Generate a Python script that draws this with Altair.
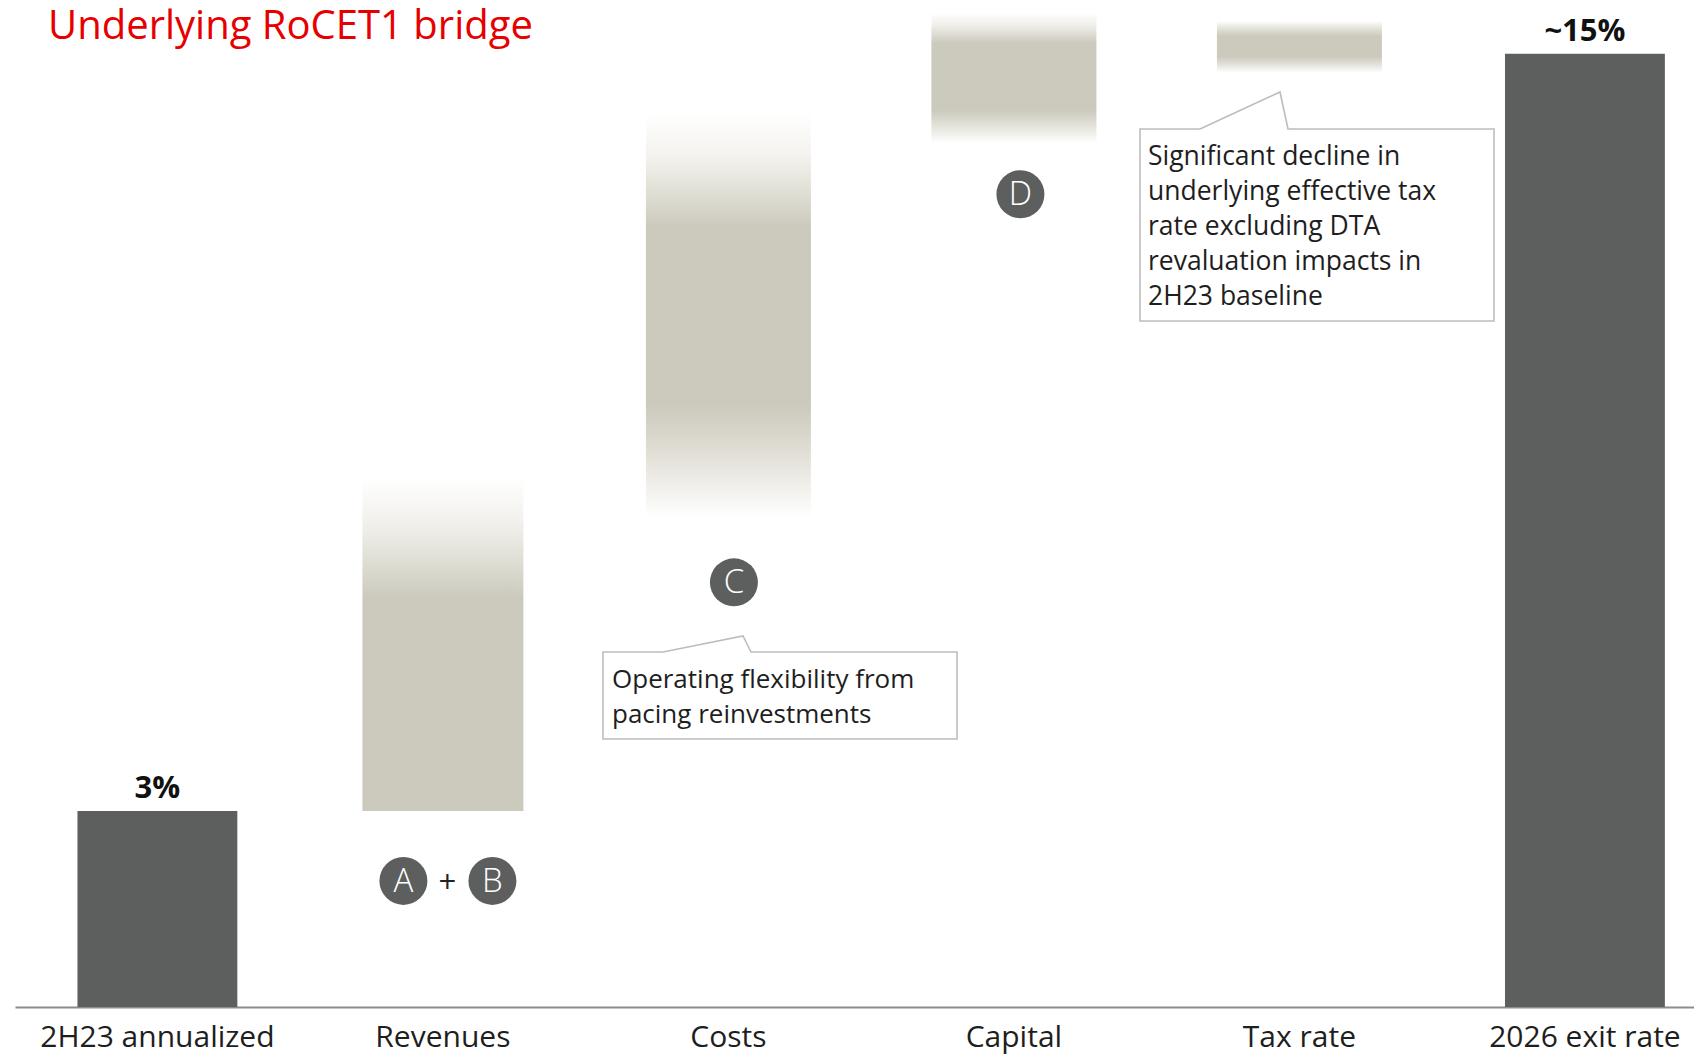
import altair as alt
import pandas as pd

# ---------------- data ----------------
categories = ["2H23 annualized", "Revenues", "Costs", "Capital", "Tax rate", "2026 exit rate"]
bar_low = [0.0, 3.0, 7.49, 13.22, 14.30, 0.0]
bar_high = [3.0, 8.10, 13.68, 15.21, 15.09, 14.59]
bar_kind = ["total", "step", "step", "step", "step", "total"]
value_labels = ["3%", "", "", "", "", "~15%"]

marker_cats = ["Revenues", "Revenues", "Costs", "Capital"]
marker_letters = ["A", "B", "C", "D"]
marker_levels = [1.93, 1.93, 6.50, 12.44]

title_text = "Underlying RoCET1 bridge"
callout1_lines = ["Operating flexibility from", "pacing reinvestments"]
callout2_lines = ["Significant decline in", "underlying effective tax", "rate excluding DTA",
                  "revaluation impacts in", "2H23 baseline"]

# ---------------- layout / style ----------------
W, H = 1679, 999
PAD_L, PAD_T, PAD_B = 7, 0, 47
OX, OY = 8 + PAD_L, 8 + PAD_T     # page offset of plot origin
FONT = "Open Sans"
DARK = "#5d5f5e"
SOLID = "#cccabd"
RED = "#e60000"
YMAX = 15.29
MARKER_DX = [-39.5, 49.5, 5.5, 6.5]
PLUS_DX = 4.5
STEP_WIDTH = {"Revenues": 161, "Costs": 165, "Capital": 165, "Tax rate": 165}

# callout outlines (page coordinates of annotation boxes)
callout_paths = {
    "c1": [(663, 652), (743, 636), (751, 652), (957, 652), (957, 739), (603, 739), (603, 652), (663, 652)],
    "c2": [(1200, 129), (1280, 92), (1288, 129), (1494, 129), (1494, 321), (1140, 321), (1140, 129), (1200, 129)],
}


def grad(stops):
    return {"gradient": "linear", "x1": 0, "y1": 0, "x2": 0, "y2": 1,
            "stops": [{"offset": o, "color": c} for o, c in stops]}


GRADS = {
    "Revenues": grad([(0, "#ffffff"), (0.12, "#f3f2ee"), (0.24, "#e1e0d7"), (0.36, SOLID), (1, SOLID)]),
    "Costs": grad([(0, "#ffffff"), (0.1, "#f4f3ef"), (0.2, "#dfded4"), (0.28, SOLID), (0.72, SOLID),
                   (0.82, "#dddbd1"), (0.92, "#f0efea"), (1, "#ffffff")]),
    "Capital": grad([(0, "#ffffff"), (0.1, "#eeede7"), (0.23, SOLID), (0.745, SOLID),
                     (0.87, "#e4e3db"), (1, "#ffffff")]),
    "Tax rate": grad([(0, "#ffffff"), (0.12, "#e8e7df"), (0.29, SOLID), (0.69, SOLID),
                      (0.85, "#e4e3db"), (1, "#ffffff")]),
}

bars = pd.DataFrame({"category": categories, "low": bar_low, "high": bar_high,
                     "kind": bar_kind, "label": value_labels})
markers = pd.DataFrame({"category": marker_cats, "letter": marker_letters, "level": marker_levels})

x_enc = alt.X("category:N", sort=categories,
              scale=alt.Scale(paddingInner=0.44, paddingOuter=0.1604, align=0.682),
              axis=alt.Axis(title=None, labelAngle=0, ticks=False, tickSize=0, grid=False,
                            domainColor="#8c8c8c", domainWidth=2, labelFontSize=30,
                            labelFont=FONT, labelColor="#1e1e1e", labelPadding=39,
                            labelBaseline="alphabetic", labelLimit=0))
y_scale = alt.Scale(domain=[0, YMAX], nice=False, zero=True)

base = alt.Chart(bars)

totals = base.transform_filter(alt.datum.kind == "total").mark_bar(color=DARK).encode(
    x=x_enc, y=alt.Y("high:Q", scale=y_scale, axis=None), y2="low:Q")

step_layers = []
for cat, g in GRADS.items():
    step_layers.append(
        base.transform_filter(alt.datum.category == cat).mark_bar(
            color=g, strokeWidth=0, width=STEP_WIDTH[cat]).encode(
            x=x_enc, y=alt.Y("high:Q", scale=y_scale, axis=None), y2="low:Q"))

labels = base.transform_filter(alt.datum.label != "").mark_text(
    font=FONT, fontSize=31, fontWeight="bold", color="#111111", baseline="alphabetic", dy=-13
).encode(x=x_enc, y=alt.Y("high:Q", scale=y_scale, axis=None), text="label:N")

marker_layers = []
for i, letter in enumerate(marker_letters):
    mb = alt.Chart(markers).transform_filter(alt.datum.letter == letter)
    marker_layers.append(mb.mark_circle(size=2304, color=DARK, opacity=1, xOffset=MARKER_DX[i]).encode(
        x=x_enc, y=alt.Y("level:Q", scale=y_scale, axis=None)))
    marker_layers.append(mb.mark_text(font=FONT, fontSize=33, fontWeight=300, color="white",
                                      baseline="middle", dx=MARKER_DX[i], dy=1).encode(
        x=x_enc, y=alt.Y("level:Q", scale=y_scale, axis=None), text="letter:N"))

plus = alt.Chart(markers).transform_filter(alt.datum.letter == "A").mark_text(
    font=FONT, fontSize=31, color="#222222", baseline="middle", dx=PLUS_DX, dy=3, text="+"
).encode(x=x_enc, y=alt.Y("level:Q", scale=y_scale, axis=None))

title_mark = alt.Chart(pd.DataFrame({"t": [title_text]})).mark_text(
    font=FONT, fontSize=40, color=RED, align="left", baseline="alphabetic"
).encode(x=alt.value(48 - OX), y=alt.value(38.6 - OY), text="t:N")

data_group = alt.layer(totals, *step_layers, labels, *marker_layers, plus, title_mark)

# callout outlines on a pixel scale
rows = []
for cid, pts in callout_paths.items():
    for k, (px, py) in enumerate(pts):
        rows.append({"id": cid, "ord": k, "px": px - OX, "py": py - OY})
cdf = pd.DataFrame(rows)
outline = alt.Chart(cdf).mark_line(color="#bdbdbd", strokeWidth=1.6).encode(
    x=alt.X("px:Q", scale=alt.Scale(domain=[0, W], nice=False, zero=False), axis=None),
    y=alt.Y("py:Q", scale=alt.Scale(domain=[0, H], nice=False, zero=False, reverse=True), axis=None),
    detail="id:N", order="ord:Q")

ct1 = alt.Chart(pd.DataFrame({"a": [0]})).mark_text(
    font=FONT, fontSize=26, color="#1e1e1e", align="left", baseline="alphabetic", lineHeight=35
).encode(x=alt.value(612 - OX), y=alt.value(688 - OY), text=alt.value(callout1_lines))
ct2 = alt.Chart(pd.DataFrame({"a": [0]})).mark_text(
    font=FONT, fontSize=26.5, color="#1e1e1e", align="left", baseline="alphabetic", lineHeight=35
).encode(x=alt.value(1148 - OX), y=alt.value(165 - OY), text=alt.value(callout2_lines))

pixel_group = alt.layer(outline, ct1, ct2)

chart = alt.layer(data_group, pixel_group).resolve_scale(
    x="independent", y="independent"
).properties(
    width=W, height=H,
    autosize=alt.AutoSizeParams(type="none"),
    padding={"left": PAD_L, "top": PAD_T, "right": 0, "bottom": PAD_B},
    background="white",
).configure_view(stroke=None)

chart.save("out.html", embed_options={"renderer": "svg", "actions": False})
